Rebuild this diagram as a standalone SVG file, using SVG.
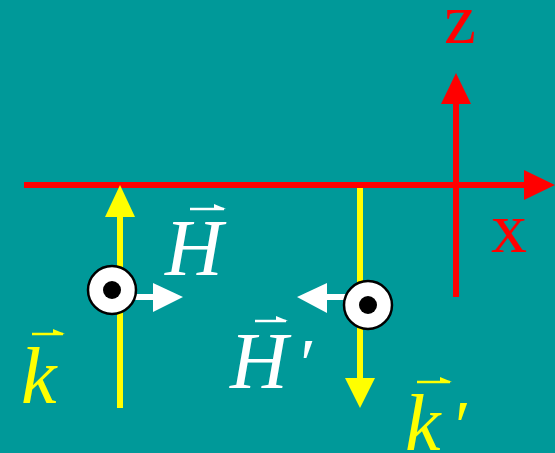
<svg xmlns="http://www.w3.org/2000/svg" width="555" height="453" viewBox="0 0 555 453">
<style>
.red{stroke:#ff0000;stroke-width:6;fill:none}
.redh{fill:#ff0000}
.yel{stroke:#ffff00;stroke-width:6;fill:none}
.yelh{fill:#ffff00}
.wht{stroke:#ffffff;stroke-width:6;fill:none}
.whth{fill:#ffffff}
.axis{font-family:"Liberation Serif","Times New Roman",serif;font-size:72px;fill:#ff0000}
.math{font-family:"Liberation Serif","Times New Roman",serif;font-style:italic;font-size:80px}
.vec{stroke-width:2.5;fill:none}
.dot{fill:#ffffff;stroke:#000000;stroke-width:2.5}
</style>
<rect x="0" y="0" width="555" height="453" fill="#009999"/>
<g id="connectors">
  <line class="red" x1="24" y1="185" x2="526" y2="185"/>
  <polygon class="redh" points="524,170 555,185 524,200"/>
  <line class="red" x1="456" y1="297" x2="456" y2="102"/>
  <polygon class="redh" points="441,104 456,73 471,104"/>
  <line class="yel" x1="120" y1="408" x2="120" y2="215"/>
  <polygon class="yelh" points="105,217 120,185 135,217"/>
  <line class="yel" x1="360" y1="188" x2="360" y2="380"/>
  <polygon class="yelh" points="345,378 360,408 375,378"/>
  <line class="wht" x1="130" y1="297" x2="155" y2="297"/>
  <polygon class="whth" points="153,283 183,297 153,312"/>
  <line class="wht" x1="325" y1="297" x2="350" y2="297"/>
  <polygon class="whth" points="327,283 297,297 327,313"/>
</g>
<g id="node-circle-left">
  <circle class="dot" cx="112" cy="290" r="24"/>
  <circle cx="112" cy="290" r="9" fill="#000000"/>
</g>
<g id="node-circle-right">
  <circle class="dot" cx="368" cy="305" r="24"/>
  <circle cx="368" cy="305" r="9" fill="#000000"/>
</g>
<g id="label-z">
  <text class="axis" x="444" y="43">z</text>
</g>
<g id="label-x">
  <text class="axis" x="491" y="252">x</text>
</g>
<g id="label-H" fill="#ffffff">
  <text class="math" x="165" y="275">H</text>
  <line class="vec" stroke="#ffffff" x1="190" y1="209" x2="224" y2="209"/>
  <polygon points="214,204 226,209 214,210" fill="#ffffff"/>
</g>
<g id="label-Hprime" fill="#ffffff">
  <text class="math" x="230" y="388">H<tspan dx="8" font-size="72">′</tspan></text>
  <line class="vec" stroke="#ffffff" x1="255" y1="321" x2="286" y2="321"/>
  <polygon points="276,316 288,321 276,322" fill="#ffffff"/>
</g>
<g id="label-k" fill="#ffff00">
  <text class="math" x="21" y="403">k</text>
  <line class="vec" stroke="#ffff00" x1="32" y1="334" x2="63" y2="334"/>
  <polygon points="53,329 65,334 53,335" fill="#ffff00"/>
</g>
<g id="label-kprime" fill="#ffff00">
  <text class="math" x="405" y="450">k<tspan dx="10" font-size="72">′</tspan></text>
  <line class="vec" stroke="#ffff00" x1="417" y1="382" x2="450" y2="382"/>
  <polygon points="440,377 452,382 440,383" fill="#ffff00"/>
</g>
</svg>
